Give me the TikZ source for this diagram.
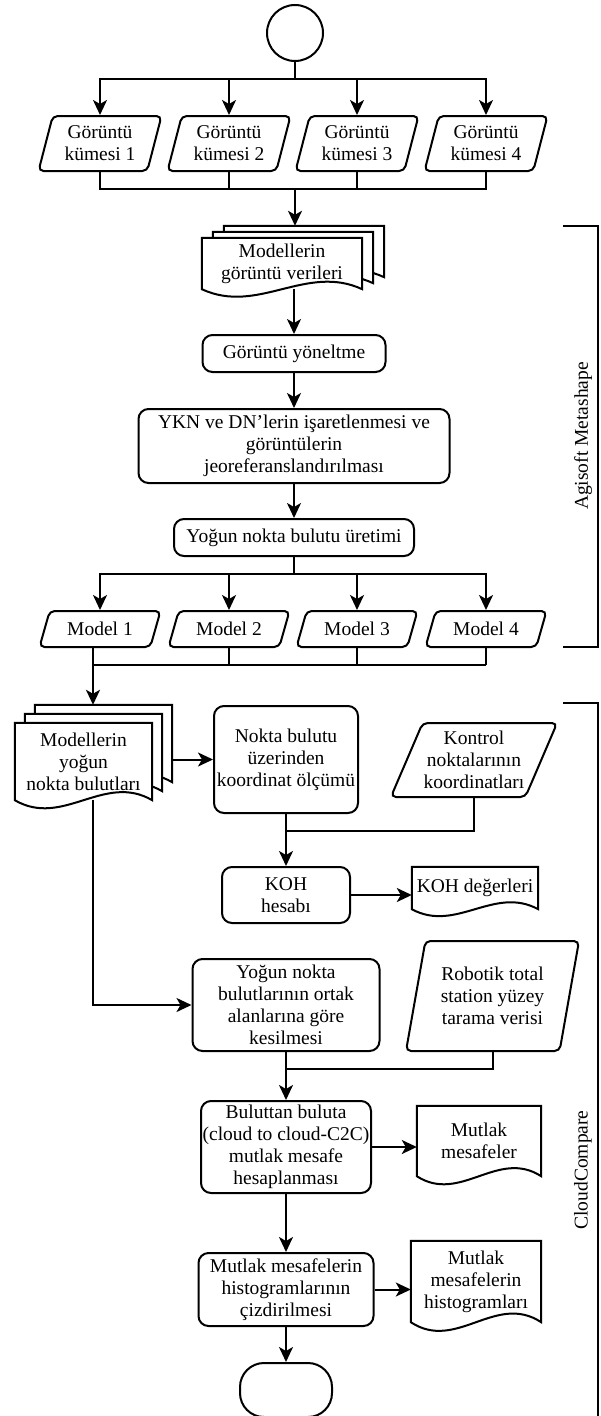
\documentclass[tikz,border=0pt]{standalone}
\usepackage{fontspec}
\setmainfont{Liberation Serif}
\usetikzlibrary{calc}
\usetikzlibrary{arrows.meta}
\usetikzlibrary{shapes.geometric}
\pgfdeclarelayer{docs}
\pgfsetlayers{docs,main}
\newcommand{\docout}[2]{%
  \begin{pgfonlayer}{docs}
    \draw[flow, fill=white] (#1.south west) -- (#1.north west) -- (#1.north east) -- (#1.south east)
      .. controls ($(#1.south west)!0.65!(#1.south east)+(0,-#2)$) and ($(#1.south west)!0.35!(#1.south east)+(0,#2)$) .. (#1.south west) -- cycle;
  \end{pgfonlayer}}

\begin{document}
\begin{tikzpicture}[x=1pt, y=-1pt,
    every node/.style={font=\fontsize{19.5}{22}\selectfont, align=center},
    flow/.style={line width=2pt},
    arr/.style={flow, -{Stealth[length=15pt, width=14pt, inset=4pt]}},
    proc/.style={draw, flow, rectangle, rounded corners=10pt, inner sep=1pt},
    para/.style={draw, flow, trapezium, trapezium stretches body, rounded corners=5pt, inner sep=1pt},
    docbox/.style={rectangle, inner sep=1pt},
    side/.style={rotate=90}]
                \useasboundingbox (0,0) rectangle (601,1416);

                \node[draw, flow, circle, minimum size=56pt] (start) at (295,33) {};
                \node[para, trapezium left angle=69, trapezium right angle=111, minimum width=123pt, minimum height=55pt] (set1) at (100,143.5) {Görüntü\\kümesi 1};
                \node[para, trapezium left angle=69, trapezium right angle=111, minimum width=123pt, minimum height=55pt] (set2) at (229,143.5) {Görüntü\\kümesi 2};
                \node[para, trapezium left angle=69, trapezium right angle=111, minimum width=123pt, minimum height=55pt] (set3) at (357,143.5) {Görüntü\\kümesi 3};
                \node[para, trapezium left angle=69, trapezium right angle=111, minimum width=123pt, minimum height=55pt] (set4) at (486,143.5) {Görüntü\\kümesi 4};

                \node[docbox, minimum width=160pt, minimum height=51pt] (imgc) at (304,251.5) {};
                \node[docbox, minimum width=160pt, minimum height=51pt] (imgb) at (293,257.5) {};
                \node[docbox, minimum width=160pt, minimum height=51pt] (imga) at (282,263.5) {Modellerin\\görüntü verileri};
                \docout{imgc}{26}
                \docout{imgb}{26}
                \docout{imga}{26}

                \node[proc, minimum width=183pt, minimum height=37pt] (orient) at (294,353.5) {Görüntü yöneltme};
                \node[proc, minimum width=311pt, minimum height=74pt] (georef) at (294,446) {YKN ve DN'lerin işaretlenmesi ve\\görüntülerin\\jeoreferanslandırılması};
                \node[proc, minimum width=240pt, minimum height=37pt] (dense) at (294,537.5) {Yoğun nokta bulutu üretimi};

                \node[para, trapezium left angle=57, trapezium right angle=123, minimum width=121pt, minimum height=36pt] (model1) at (100,629) {Model 1};
                \node[para, trapezium left angle=57, trapezium right angle=123, minimum width=121pt, minimum height=36pt] (model2) at (229,629) {Model 2};
                \node[para, trapezium left angle=57, trapezium right angle=123, minimum width=121pt, minimum height=36pt] (model3) at (357,629) {Model 3};
                \node[para, trapezium left angle=57, trapezium right angle=123, minimum width=121pt, minimum height=36pt] (model4) at (486,629) {Model 4};

                \node[docbox, minimum width=137pt, minimum height=77pt] (cloudc) at (103.5,743.5) {};
                \node[docbox, minimum width=137pt, minimum height=77pt] (cloudb) at (93.5,752.5) {};
                \node[docbox, minimum width=137pt, minimum height=77pt] (clouda) at (83.5,761.5) {Modellerin\\yoğun\\nokta bulutları};
                \docout{cloudc}{28}
                \docout{cloudb}{28}
                \docout{clouda}{28}

                \node[proc, minimum width=144pt, minimum height=107pt] (measure) at (286,759.5) {Nokta bulutu\\üzerinden\\koordinat ölçümü};
                \node[para, trapezium left angle=62, trapezium right angle=118, minimum width=162pt, minimum height=74pt] (control) at (474,760) {Kontrol\\noktalarının\\koordinatları};
                \node[proc, minimum width=128pt, minimum height=56pt] (rmse) at (286,895) {KOH\\hesabı};
                \node[docbox, minimum width=126pt, minimum height=42pt] (rmseval) at (475,888) {KOH değerleri};
                \docout{rmseval}{24}

                \node[proc, minimum width=187pt, minimum height=92pt] (crop) at (286,1005) {Yoğun nokta\\bulutlarının ortak\\alanlarına göre\\kesilmesi};
                \node[para, trapezium left angle=72, trapezium right angle=108, minimum width=173pt, minimum height=110pt] (scan) at (492.5,996) {Robotik total\\station yüzey\\tarama verisi};
                \node[proc, minimum width=170pt, minimum height=92pt] (ctoc) at (286,1147) {Buluttan buluta\\(cloud to cloud-C2C)\\mutlak mesafe\\hesaplanması};
                \node[docbox, minimum width=124pt, minimum height=70pt] (dist) at (479,1141) {Mutlak\\mesafeler};
                \docout{dist}{28}
                \node[proc, minimum width=175pt, minimum height=73pt] (hist) at (286,1289.5) {Mutlak mesafelerin\\histogramlarının\\çizdirilmesi};
                \node[docbox, minimum width=130pt, minimum height=81pt] (histdoc) at (476,1281.5) {Mutlak\\mesafelerin\\histogramları};
                \docout{histdoc}{30}
                \node[draw, flow, rectangle, rounded corners=24pt, minimum width=92pt, minimum height=54pt] (stop) at (286,1390) {};

                \coordinate (fork1) at (295,79);
                \coordinate (join1) at (295,189);
                \coordinate (fork2) at (294,574);
                \coordinate (join2) at (93,665);
                \coordinate (join3) at (286,831);
                \coordinate (join4) at (286,1069);

                \draw[flow] (start.south) -- (fork1);
                \foreach \i in {1,...,4} {
                    \draw[arr] (fork1) -| (set\i.north);
                    \draw[flow] (set\i.south) |- (join1);
                }
                \draw[arr] (join1) -- (join1 |- imgc.north);
                \draw[arr] (orient.north |- imga.south) -- (orient.north);
                \draw[arr] (orient.south) -- (georef.north);
                \draw[arr] (georef.south) -- (dense.north);
                \draw[flow] (dense.south) -- (fork2);
                \foreach \i in {1,...,4} {
                    \draw[arr] (fork2) -| (model\i.north);
                }
                \draw[flow] (join2 |- model1.south) -- (join2) -- (join2 -| model4.south);
                \foreach \i in {2,3,4} {
                    \draw[flow] (model\i.south) -- (model\i.south |- join2);
                }
                \draw[arr] (join2) -- (join2 |- cloudc.north);
                \draw[arr] (measure.west -| cloudc.east) -- (measure.west);
                \draw[flow] (control.south) |- (join3);
                \draw[arr] (measure.south) -- (rmse.north);
                \draw[arr] (rmse.east) -- (rmse.east -| rmseval.west);
                \draw[arr] (clouda.south -| join2) |- (crop.west);
                \draw[flow] (scan.south) |- (join4);
                \draw[arr] (crop.south) -- (ctoc.north);
                \draw[arr] (ctoc.east) -- (ctoc.east -| dist.west);
                \draw[arr] (ctoc.south) -- (hist.north);
                \draw[arr] (hist.east) -- (hist.east -| histdoc.west);
                \draw[arr] (hist.south) -- (stop.north);

                \draw[flow] (563,226) -- (598,226) -- (598,647) -- (563,647);
                \node[side] (agisoft) at (583,436) {Agisoft Metashape};
                \draw[flow] (563,703) -- (598,703) -- (598,1420);
                \node[side] (cloudcompare) at (583,1170) {CloudCompare};
            \end{tikzpicture}
\end{document}
